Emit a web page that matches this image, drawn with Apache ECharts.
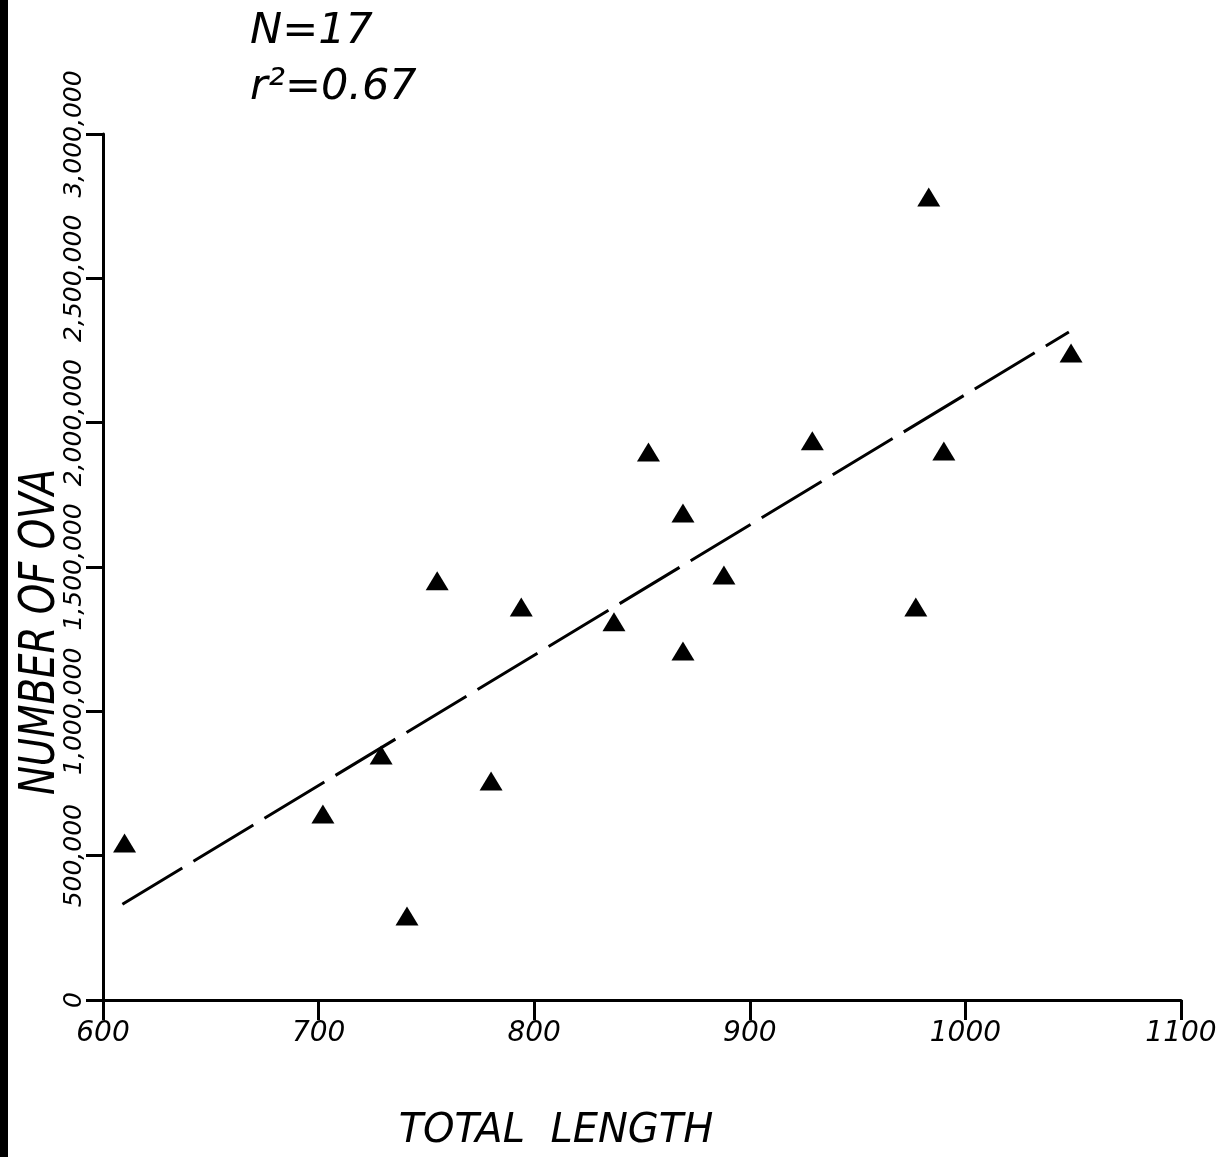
<!DOCTYPE html>
<html>
<head>
<meta charset="utf-8">
<script src="https://cdn.jsdelivr.net/npm/echarts@6/dist/echarts.min.js"></script>
<style>
html,body{margin:0;padding:0;background:#fff;}
#chart{width:1218px;height:1157px;}
</style>
</head>
<body>
<div id="chart"></div>
<script>
// Data
var totalLength = [610, 702, 729, 741, 755, 780, 794, 837, 853, 869, 869, 888, 929, 977, 983, 990, 1049];
var numberOfOva = [544000, 644000, 849000, 291000, 1452000, 759000, 1361000, 1310000, 1898000, 1687000, 1209000, 1472000, 1937000, 1361000, 2782000, 1902000, 2241000];
var fitX = [609, 1048];
var fitY = [332000, 2314000];
var yTickLabels = {0: '0', 500000: '500,000', 1000000: '1,000,000', 1500000: '1,500,000', 2000000: '2,000,000', 2500000: '2,500,000', 3000000: '3,000,000'};
var annotations = ['N=17', 'r²=0.67'];

var points = totalLength.map(function (x, i) { return [x, numberOfOva[i]]; });
var fitLine = fitX.map(function (x, i) { return [x, fitY[i]]; });

var FONT = '"DejaVu Sans", sans-serif';
var chart = echarts.init(document.getElementById('chart'));
chart.setOption({
  backgroundColor: '#fff',
  animation: false,
  grid: { left: 103, right: 37, top: 134, bottom: 157, containLabel: false, outerBoundsMode: 'none' },
  xAxis: {
    type: 'value', min: 600, max: 1100, interval: 100,
    axisLine: { lineStyle: { color: '#000', width: 3 } },
    axisTick: { length: 20, lineStyle: { color: '#000', width: 3 } },
    splitLine: { show: false },
    axisLabel: { margin: 20, color: '#000', fontFamily: FONT, fontStyle: 'italic', fontSize: 28,
      formatter: function (v) { return String(v); } }
  },
  yAxis: {
    type: 'value', min: 0, max: 3000000, interval: 500000,
    axisLine: { show: true, lineStyle: { color: '#000', width: 3 } },
    axisTick: { show: true, length: 17, lineStyle: { color: '#000', width: 3 } },
    splitLine: { show: false },
    axisLabel: {
      rotate: 90, margin: 16, color: '#000', fontFamily: FONT, fontStyle: 'italic', fontSize: 25,
      formatter: function (v) { return yTickLabels[v] !== undefined ? yTickLabels[v] : ''; }
    }
  },
  series: [
    {
      type: 'line', data: fitLine, showSymbol: false, symbol: 'none',
      lineStyle: { color: '#000', width: 3, type: [70, 13] }, z: 2
    },
    {
      type: 'scatter', data: points, symbol: 'triangle', symbolSize: [23, 19],
      itemStyle: { color: '#000', opacity: 1 }, z: 3
    }
  ],
  graphic: [
    { type: 'rect', left: 0, top: 0, shape: { width: 8, height: 1157 }, style: { fill: '#000' } },
    { type: 'text', left: 250, top: 10, style: { text: annotations[0], font: 'italic 43px ' + FONT, fill: '#000' } },
    { type: 'text', left: 250, top: 66, style: { text: annotations[1], font: 'italic 43px ' + FONT, fill: '#000' } },
    { type: 'text', x: 41, y: 632, rotation: Math.PI / 2, scaleX: 0.86,
      style: { text: 'NUMBER OF OVA', font: 'italic 50px "Liberation Sans Narrow", "DejaVu Sans Condensed", sans-serif', fill: '#000', align: 'center', verticalAlign: 'middle' } },
    { type: 'text', x: 556, y: 1132,
      style: { text: 'TOTAL  LENGTH', font: 'italic 40px ' + FONT, fill: '#000', align: 'center', verticalAlign: 'middle' } }
  ]
});
</script>
</body>
</html>
